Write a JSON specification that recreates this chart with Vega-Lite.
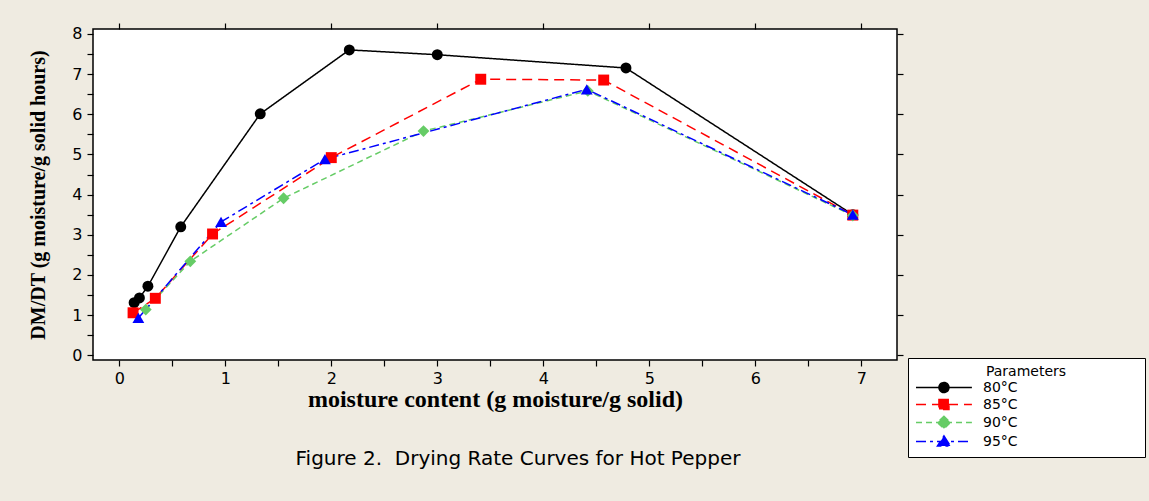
{
  "$schema": "https://vega.github.io/schema/vega-lite/v6.json",
  "width": 804,
  "height": 331,
  "autosize": {"type": "none"},
  "padding": {"left": 93, "top": 29, "right": 252, "bottom": 141},
  "background": "#EFEBE1",
  "config": {
    "view": {"fill": "white", "stroke": "black", "strokeWidth": 1.5},
    "axis": {
      "grid": false,
      "domain": false,
      "tickColor": "black",
      "tickSize": 6,
      "tickWidth": 1.2,
      "labelColor": "black",
      "labelFont": "DejaVu Sans",
      "labelFontSize": 16,
      "titleFont": "Liberation Serif",
      "titleFontWeight": "bold",
      "titleColor": "black"
    }
  },
  "title": {
    "text": "Figure 2.\u00a0 Drying Rate Curves for Hot Pepper",
    "orient": "bottom",
    "anchor": "middle",
    "frame": "group",
    "font": "DejaVu Sans",
    "fontSize": 20,
    "fontWeight": "normal",
    "color": "black",
    "offset": -9,
    "dx": 23
  },
  "data": {
    "values": [
      {"temp": "80°C", "x": 0.14, "y": 1.31},
      {"temp": "80°C", "x": 0.19, "y": 1.43},
      {"temp": "80°C", "x": 0.27, "y": 1.72},
      {"temp": "80°C", "x": 0.58, "y": 3.2},
      {"temp": "80°C", "x": 1.33, "y": 6.01},
      {"temp": "80°C", "x": 2.17, "y": 7.6},
      {"temp": "80°C", "x": 3.0, "y": 7.48},
      {"temp": "80°C", "x": 4.78, "y": 7.15},
      {"temp": "80°C", "x": 6.92, "y": 3.5},
      {"temp": "85°C", "x": 0.13, "y": 1.06},
      {"temp": "85°C", "x": 0.34, "y": 1.42},
      {"temp": "85°C", "x": 0.88, "y": 3.02},
      {"temp": "85°C", "x": 2.0, "y": 4.92},
      {"temp": "85°C", "x": 3.41, "y": 6.87},
      {"temp": "85°C", "x": 4.57, "y": 6.85},
      {"temp": "85°C", "x": 6.92, "y": 3.49},
      {"temp": "90°C", "x": 0.25, "y": 1.14},
      {"temp": "90°C", "x": 0.67, "y": 2.34},
      {"temp": "90°C", "x": 1.55, "y": 3.91},
      {"temp": "90°C", "x": 2.87, "y": 5.58},
      {"temp": "90°C", "x": 4.42, "y": 6.58},
      {"temp": "90°C", "x": 6.92, "y": 3.48},
      {"temp": "95°C", "x": 0.18, "y": 0.93},
      {"temp": "95°C", "x": 0.96, "y": 3.32},
      {"temp": "95°C", "x": 1.94, "y": 4.88},
      {"temp": "95°C", "x": 4.41, "y": 6.62},
      {"temp": "95°C", "x": 6.92, "y": 3.5}
    ]
  },
  "encoding": {
    "color": {
      "field": "temp",
      "type": "nominal",
      "scale": {"domain": ["80°C", "85°C", "90°C", "95°C"], "range": ["#000000", "#FF0000", "#66CC66", "#0000FF"]},
      "legend": {
        "orient": "none",
        "legendX": 815,
        "legendY": 329,
        "title": "Parameters",
        "titleFont": "DejaVu Sans",
        "titleFontSize": 14,
        "titleFontWeight": "normal",
        "titleColor": "black",
        "titleAnchor": "middle",
        "titlePadding": 1,
        "labelFont": "DejaVu Sans",
        "labelFontSize": 14,
        "labelColor": "black",
        "labelAlign": "left",
        "labelOffset": 53,
        "labelLimit": 400,
        "symbolSize": 169,
        "fillColor": "white",
        "strokeColor": "black",
        "padding": 7,
        "rowPadding": 0,
        "labelExpr": "datum.label + '\u00a0\u00a0\u00a0\u00a0\u00a0\u00a0\u00a0\u00a0\u00a0\u00a0\u00a0\u00a0\u00a0\u00a0\u00a0\u00a0\u00a0\u00a0\u00a0\u00a0\u00a0\u00a0\u00a0\u00a0\u00a0\u00a0\u00a0\u200b'",
        "encode": {
          "symbols": {
            "update": {
              "shape": {"signal": "datum.value === '80°C' ? 'M-1,0L7.6,0M2.53,0A0.77,0.77 0 1,0 4.07,0A0.77,0.77 0 1,0 2.53,0Z' : datum.value === '85°C' ? 'M-1,0L7.6,0M2.53,-0.77L4.07,-0.77L4.07,0.77L2.53,0.77Z' : datum.value === '90°C' ? 'M-1,0L7.6,0M3.3,-0.95L4.3,0L3.3,0.95L2.3,0Z' : 'M-1,0L7.6,0M3.3,-0.85L4.3,0.7L2.3,0.7Z'"},
              "stroke": {"signal": "scale('color', datum.value)"},
              "fill": {"signal": "scale('color', datum.value)"},
              "strokeDash": {"signal": "scale('strokeDash', datum.value)"},
              "strokeWidth": {"value": 1.5},
              "opacity": {"value": 1},
              "fillOpacity": {"value": 1}
            }
          }
        }
      }
    }
  },
  "layer": [
    {
      "mark": {"type": "line", "strokeWidth": 1.5},
      "encoding": {
        "x": {
          "field": "x",
          "type": "quantitative",
          "scale": {"domain": [-0.248, 7.337], "nice": false, "zero": false},
          "axis": {
            "orient": "bottom",
            "title": "moisture content (g moisture/g solid)",
            "titleFontSize": 24,
            "values": [0, 0.5, 1, 1.5, 2, 2.5, 3, 3.5, 4, 4.5, 5, 5.5, 6, 6.5, 7],
            "labelExpr": "datum.value % 1 === 0 ? '' + datum.value : ''",
            "labelPadding": 4,
            "titlePadding": 1
          }
        },
        "y": {
          "field": "y",
          "type": "quantitative",
          "scale": {"domain": [-0.115, 8.12], "nice": false, "zero": false},
          "axis": {
            "orient": "left",
            "title": "DM/DT (g moisture/g solid hours)",
            "titleFontSize": 20,
            "values": [0, 0.5, 1, 1.5, 2, 2.5, 3, 3.5, 4, 4.5, 5, 5.5, 6, 6.5, 7, 7.5, 8],
            "labelExpr": "datum.value % 1 === 0 ? '' + datum.value : ''",
            "labelPadding": 5,
            "titlePadding": 23
          }
        },
        "strokeDash": {
          "field": "temp",
          "type": "nominal",
          "scale": {"domain": ["80°C", "85°C", "90°C", "95°C"], "range": [[1, 0], [10, 6], [6, 4], [10, 4, 3, 4]]},
          "legend": null
        }
      }
    },
    {
      "transform": [{"filter": "datum.temp === '80°C'"}],
      "mark": {"type": "point", "filled": true, "opacity": 1, "size": 120, "shape": "circle"},
      "encoding": {
        "x": {
          "field": "x",
          "type": "quantitative",
          "scale": {"domain": [-0.248, 7.337], "nice": false, "zero": false},
          "axis": {"orient": "top", "title": null, "labels": false, "values": [0, 1, 2, 3, 4, 5, 6, 7]}
        },
        "y": {
          "field": "y",
          "type": "quantitative",
          "scale": {"domain": [-0.115, 8.12], "nice": false, "zero": false},
          "axis": {"orient": "right", "title": null, "labels": false, "values": [0, 1, 2, 3, 4, 5, 6, 7, 8]}
        }
      }
    },
    {
      "transform": [{"filter": "datum.temp === '85°C'"}],
      "mark": {"type": "point", "filled": true, "opacity": 1, "size": 120, "shape": "square"},
      "encoding": {
        "x": {"field": "x", "type": "quantitative", "scale": {"domain": [-0.248, 7.337], "nice": false, "zero": false}, "axis": null},
        "y": {"field": "y", "type": "quantitative", "scale": {"domain": [-0.115, 8.12], "nice": false, "zero": false}, "axis": null}
      }
    },
    {
      "transform": [{"filter": "datum.temp === '90°C'"}],
      "mark": {"type": "point", "filled": true, "opacity": 1, "size": 140, "shape": "diamond"},
      "encoding": {
        "x": {"field": "x", "type": "quantitative", "scale": {"domain": [-0.248, 7.337], "nice": false, "zero": false}, "axis": null},
        "y": {"field": "y", "type": "quantitative", "scale": {"domain": [-0.115, 8.12], "nice": false, "zero": false}, "axis": null}
      }
    },
    {
      "transform": [{"filter": "datum.temp === '95°C'"}],
      "mark": {"type": "point", "filled": true, "opacity": 1, "size": 140, "shape": "triangle-up"},
      "encoding": {
        "x": {"field": "x", "type": "quantitative", "scale": {"domain": [-0.248, 7.337], "nice": false, "zero": false}, "axis": null},
        "y": {"field": "y", "type": "quantitative", "scale": {"domain": [-0.115, 8.12], "nice": false, "zero": false}, "axis": null}
      }
    }
  ],
  "resolve": {"axis": {"x": "independent", "y": "independent"}}
}
